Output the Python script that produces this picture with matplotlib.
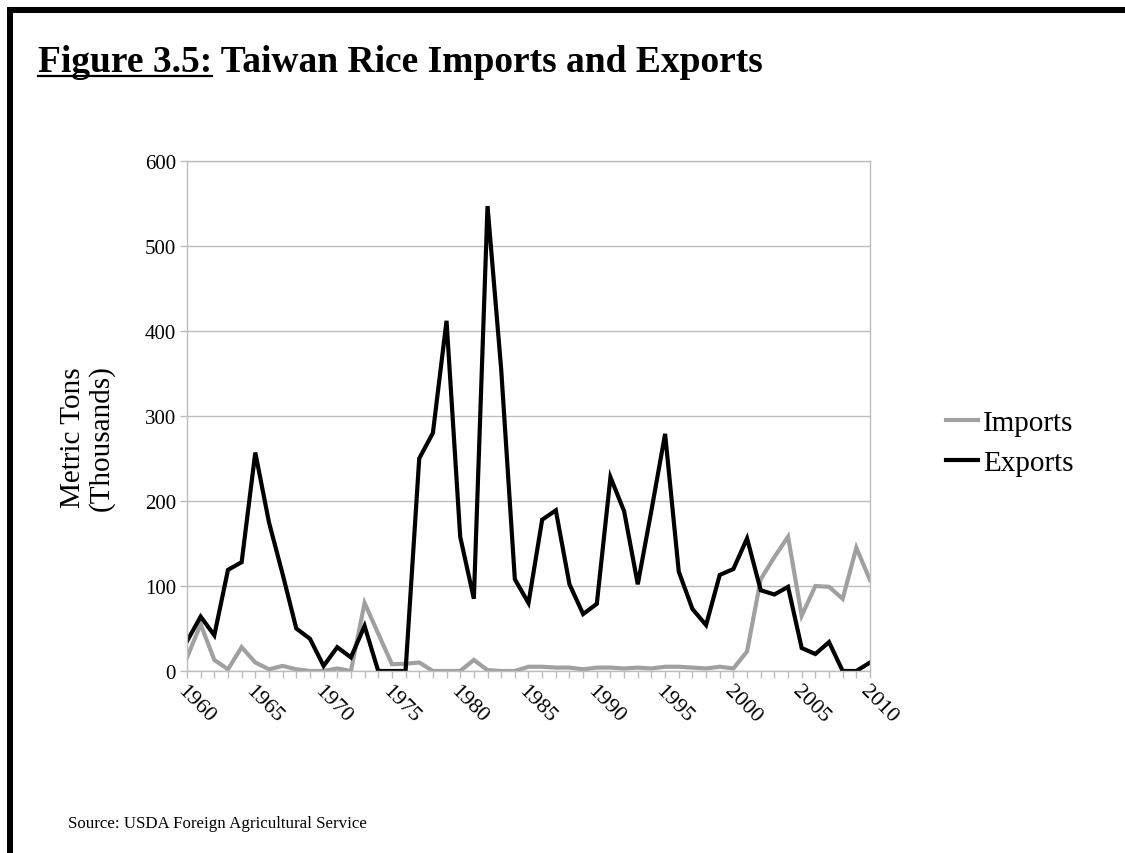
import matplotlib
matplotlib.use("Agg")
import matplotlib.pyplot as plt
from matplotlib.lines import Line2D
from matplotlib.patches import Rectangle

plt.rcParams['font.family'] = ['Liberation Serif', 'DejaVu Serif']

years = list(range(1960, 2011))

# thousand metric tons
imports = [16, 55, 13, 2, 28, 10, 2, 6, 2, 0,
           0, 3, 0, 80, 44, 8, 8.5, 10, 0, 0,
           0, 13, 1, 0, 0, 5, 5, 4, 4, 2,
           4, 4, 3, 4, 3, 5, 5, 4, 3, 5,
           3, 23, 108, 134, 158, 65, 100, 99, 85, 145,
           107]
exports = [35, 64, 42, 119, 128, 257, 175, 114, 50, 38,
           6, 28, 16, 53, 0, 0, 0, 250, 280, 412,
           158, 85, 547, 355, 108, 80, 178, 189, 102, 67,
           79, 228, 188, 102, 189, 279, 117, 73, 54, 113,
           120, 156, 95, 90, 99, 27, 20, 34, 0, 0,
           10]

W, H = 1125, 854
fig = plt.figure(figsize=(W / 100, H / 100), dpi=100)

# black frame along top and left edges
fig.add_artist(Rectangle((7 / W, 1 - 14 / H), 1, 6 / H, transform=fig.transFigure,
                         color='black', lw=0))
fig.add_artist(Rectangle((7 / W, 0), 6 / W, 1 - 8 / H, transform=fig.transFigure,
                         color='black', lw=0))

ax = fig.add_axes([187 / W, 1 - 672 / H, (870 - 187) / W, (672 - 162) / H])
ax.plot(years, imports, color='#a0a0a0', lw=3, label='Imports', solid_joinstyle='miter')
ax.plot(years, exports, color='black', lw=3, label='Exports', solid_joinstyle='miter')

ax.set_xlim(1960, 2010)
ax.set_ylim(0, 600)
ax.set_yticks(range(0, 601, 100))
ax.set_xticks(range(1960, 2011, 5))
ax.set_xticks(years, minor=True)
ax.grid(axis='y', color='#bdbdbd', lw=1)
ax.set_axisbelow(True)
for s in ax.spines.values():
    s.set_color('#bdbdbd')
    s.set_linewidth(1)
ax.tick_params(axis='both', which='both', direction='out', length=5, width=1,
               color='#bdbdbd')
ax.tick_params(axis='y', labelsize=15, pad=3)
ax.tick_params(axis='x', labelsize=16, pad=2)
for lbl in ax.get_xticklabels():
    lbl.set_rotation(-45)
    lbl.set_ha('left')
    lbl.set_va('top')
    lbl.set_rotation_mode('anchor')

# axis title, one line per text
fig.text(73 / W, 1 - 438 / H, 'Metric Tons', rotation=90,
         ha='center', va='center', fontsize=21)
fig.text(101 / W, 1 - 438 / H, '(Thousands)', rotation=90,
         ha='center', va='center', fontsize=21)

ax.legend(loc='center left', bbox_to_anchor=(946 / W, 1 - 444 / H),
          bbox_transform=fig.transFigure, frameon=False, borderpad=0,
          borderaxespad=0, fontsize=21, handlelength=1.1, handletextpad=0.18,
          labelspacing=0.45)

# title with underlined figure number
t1 = fig.text(38 / W, 1 - 72 / H, 'Figure 3.5:', fontsize=27, fontweight='bold',
              va='baseline', ha='left')
fig.canvas.draw()
bb = t1.get_window_extent()
fig.text(bb.x1 / W, 1 - 72 / H, ' Taiwan Rice Imports and Exports', fontsize=27,
         fontweight='bold', va='baseline', ha='left')
fig.add_artist(Line2D([bb.x0 / W, bb.x1 / W], [1 - 77 / H, 1 - 77 / H],
                      transform=fig.transFigure, color='black', lw=1.6))

fig.text(68 / W, 1 - 824 / H, 'Source: USDA Foreign Agricultural Service',
         fontsize=12.2, va='center', ha='left')

fig.savefig('out.png', dpi=100)
